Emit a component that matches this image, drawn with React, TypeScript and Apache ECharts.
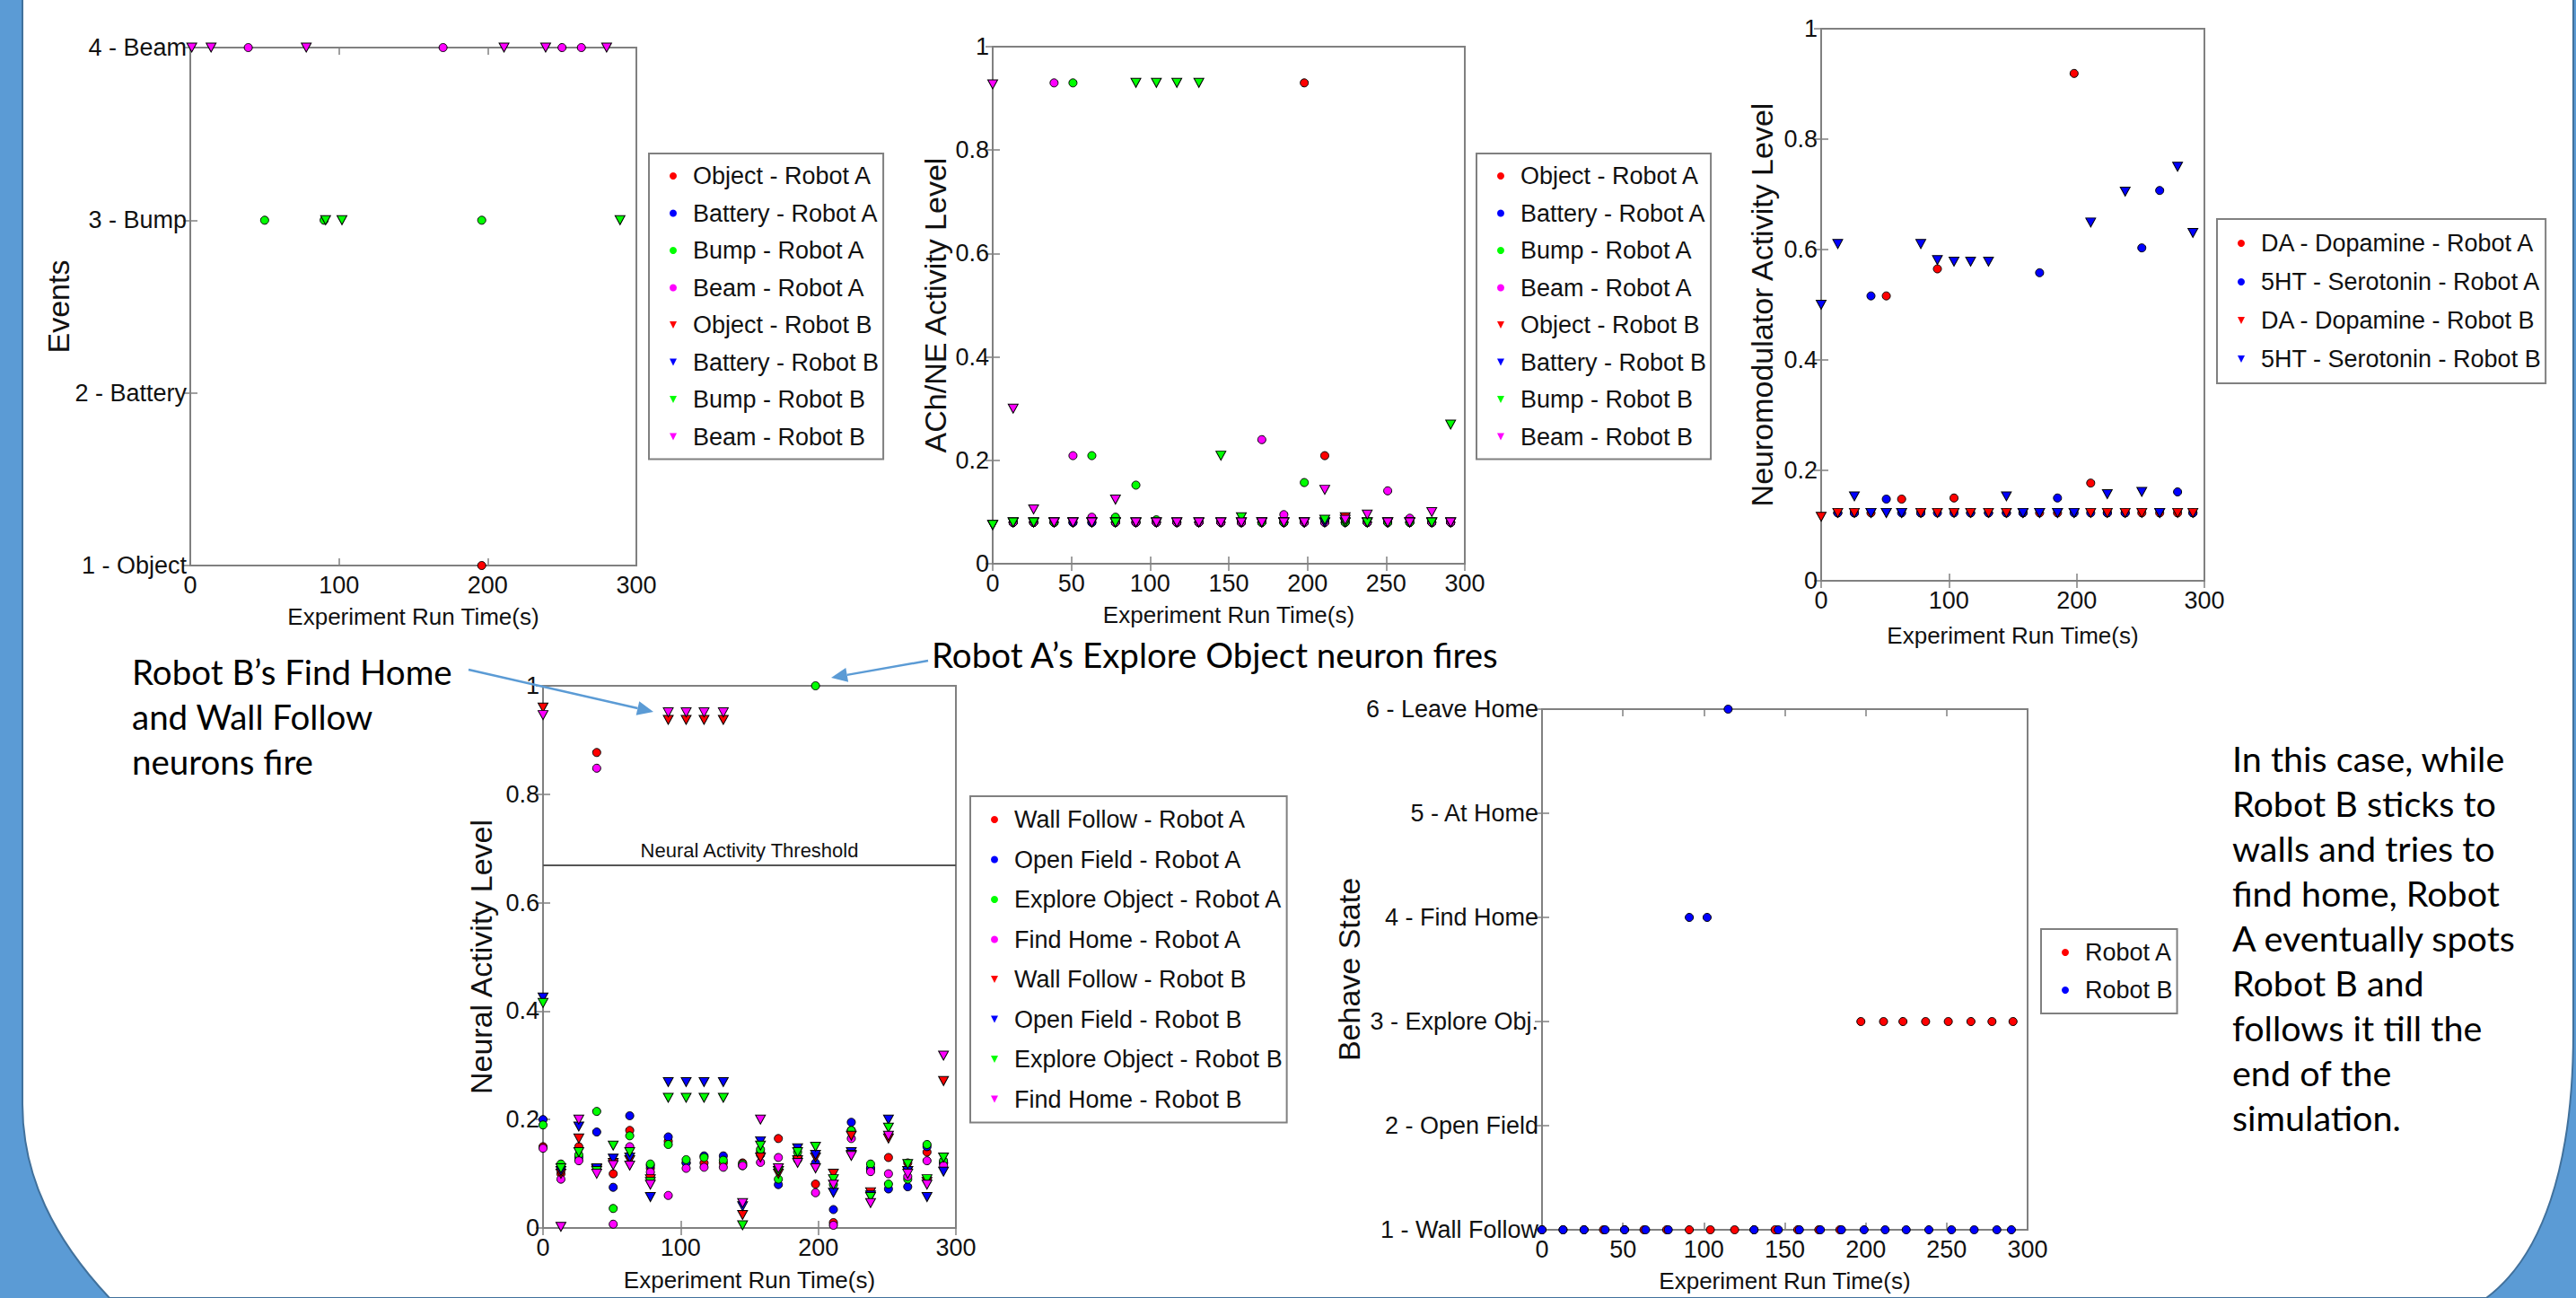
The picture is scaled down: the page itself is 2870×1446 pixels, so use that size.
import React, { useEffect, useRef } from "react";
import * as echarts from "echarts";

// ---------------- DATA ----------------
// common sampling times (s)
const T = [0, 13, 26, 39, 51, 63, 78, 91, 104, 117, 131, 145, 158, 171, 185, 198, 211, 224, 238, 251, 265, 279, 291];

// Chart 1: Events (times at which each event fired)
const EVENT_LEVELS = ["1 - Object", "2 - Battery", "3 - Bump", "4 - Beam"];
const evObjectA = [196];
const evBatteryA: number[] = [];
const evBumpA = [50, 90, 196];
const evBeamA = [39, 170, 250, 263];
const evObjectB: number[] = [];
const evBatteryB: number[] = [];
const evBumpB = [91, 102, 289];
const evBeamB = [1, 14, 78, 211, 239, 280];

// Chart 2: ACh/NE activity level
const achObjectA = [null, 0.08, 0.08, 0.08, 0.08, 0.08, 0.08, 0.08, 0.08, 0.08, 0.08, 0.08, 0.08, 0.08, 0.08, 0.93, 0.209, 0.09, 0.08, 0.08, 0.08, 0.08, 0.08];
const achBatteryA = [null, 0.08, 0.08, 0.08, 0.08, 0.08, 0.08, 0.08, 0.08, 0.08, 0.08, 0.08, 0.08, 0.08, 0.08, 0.08, 0.08, 0.08, 0.08, 0.08, 0.08, 0.08, 0.08];
const achBumpA = [null, 0.08, 0.08, 0.08, 0.93, 0.209, 0.09, 0.152, 0.085, 0.08, 0.08, 0.08, 0.08, 0.08, 0.08, 0.157, 0.085, 0.08, 0.08, 0.08, 0.08, 0.08, 0.08];
const achBeamA = [null, 0.08, 0.08, 0.93, 0.209, 0.09, 0.08, 0.08, 0.08, 0.08, 0.08, 0.08, 0.08, 0.24, 0.095, 0.08, 0.08, 0.085, 0.08, 0.141, 0.088, 0.08, 0.08];
const achObjectB = [0.075, 0.08, 0.08, 0.08, 0.08, 0.08, 0.08, 0.08, 0.08, 0.08, 0.08, 0.08, 0.08, 0.08, 0.08, 0.08, 0.08, 0.09, 0.08, 0.08, 0.08, 0.08, 0.08];
const achBatteryB = [0.075, 0.08, 0.08, 0.08, 0.08, 0.08, 0.08, 0.08, 0.08, 0.08, 0.08, 0.08, 0.08, 0.08, 0.08, 0.08, 0.08, 0.08, 0.08, 0.08, 0.08, 0.08, 0.08];
const achBumpB = [0.075, 0.08, 0.08, 0.08, 0.08, 0.08, 0.08, 0.93, 0.93, 0.93, 0.93, 0.209, 0.09, 0.08, 0.08, 0.08, 0.085, 0.08, 0.08, 0.08, 0.08, 0.08, 0.269];
const achBeamB = [0.927, 0.3, 0.105, 0.08, 0.08, 0.08, 0.124, 0.08, 0.08, 0.08, 0.08, 0.08, 0.08, 0.08, 0.08, 0.08, 0.143, 0.085, 0.095, 0.08, 0.08, 0.1, 0.08];

// Chart 3: neuromodulator activity level
const nmDA_A = [null, 0.123, 0.123, 0.123, 0.516, 0.148, 0.123, 0.565, 0.15, 0.123, 0.123, 0.123, 0.123, 0.123, 0.123, 0.919, 0.177, 0.123, 0.123, 0.123, 0.123, 0.123, 0.123];
const nm5HT_A = [null, 0.123, 0.123, 0.516, 0.148, 0.123, 0.123, 0.123, 0.123, 0.123, 0.123, 0.123, 0.123, 0.558, 0.15, 0.123, 0.123, 0.123, 0.123, 0.603, 0.707, 0.161, 0.123];
const nmDA_B = [0.116, 0.123, 0.123, 0.123, 0.123, 0.123, 0.123, 0.123, 0.123, 0.123, 0.123, 0.123, 0.123, 0.123, 0.123, 0.123, 0.123, 0.123, 0.123, 0.123, 0.123, 0.123, 0.123];
const nm5HT_B = [0.5, 0.61, 0.153, 0.123, 0.123, 0.123, 0.61, 0.581, 0.578, 0.578, 0.578, 0.153, 0.123, 0.123, 0.123, 0.123, 0.649, 0.157, 0.705, 0.161, 0.123, 0.75, 0.63];

// Chart 4: neural activity level
const THRESHOLD = 0.672;
const naWallA = [0.15, 0.1, 0.15, 0.877, 0.1, 0.18, 0.11, 0.16, 0.12, 0.12, 0.12, 0.12, 0.14, 0.165, 0.13, 0.081, 0.01, 0.18, 0.11, 0.13, 0.12, 0.14, 0.12];
const naOpenA = [0.2, 0.11, 0.13, 0.177, 0.075, 0.207, 0.115, 0.168, 0.12, 0.133, 0.133, 0.115, 0.135, 0.08, 0.13, 0.12, 0.034, 0.195, 0.11, 0.072, 0.076, 0.15, 0.12];
const naExploreA = [0.19, 0.118, 0.135, 0.215, 0.036, 0.17, 0.118, 0.154, 0.126, 0.13, 0.125, 0.118, 0.145, 0.09, 0.14, 1.0, 0.08, 0.18, 0.118, 0.081, 0.09, 0.154, 0.124];
const naHomeA = [0.147, 0.09, 0.124, 0.848, 0.007, 0.15, 0.103, 0.06, 0.11, 0.112, 0.112, 0.115, 0.121, 0.13, 0.126, 0.065, 0.005, 0.165, 0.104, 0.1, 0.095, 0.124, 0.115];
const naWallB = [0.96, 0.1, 0.165, 0.108, 0.12, 0.125, 0.09, 0.937, 0.937, 0.937, 0.937, 0.024, 0.13, 0.1, 0.125, 0.13, 0.1, 0.17, 0.066, 0.165, 0.105, 0.085, 0.271];
const naOpenB = [0.425, 0.105, 0.187, 0.11, 0.128, 0.13, 0.057, 0.269, 0.269, 0.269, 0.269, 0.04, 0.16, 0.105, 0.147, 0.135, 0.065, 0.14, 0.06, 0.2, 0.105, 0.057, 0.104];
const naExploreB = [0.415, 0.11, 0.14, 0.105, 0.152, 0.14, 0.085, 0.24, 0.24, 0.24, 0.24, 0.005, 0.152, 0.105, 0.14, 0.15, 0.09, 0.135, 0.057, 0.185, 0.118, 0.09, 0.13];
const naHomeB = [0.946, 0.002, 0.2, 0.1, 0.116, 0.115, 0.08, 0.951, 0.951, 0.951, 0.951, 0.046, 0.2, 0.11, 0.12, 0.11, 0.08, 0.133, 0.046, 0.17, 0.1, 0.08, 0.318];

// Chart 5: behaviour state
const STATE_LEVELS = ["1 - Wall Follow", "2 - Open Field", "3 - Explore Obj.", "4 - Find Home", "5 - At Home", "6 - Leave Home"];
const bsTimeA = [0, 13, 26, 38, 51, 63, 77, 91, 104, 119, 131, 144, 158, 171, 184, 197, 211, 223, 237, 251, 265, 278, 291];
const bsStateA = [1, 1, 1, 1, 1, 1, 1, 1, 1, 1, 1, 1, 1, 1, 1, 3, 3, 3, 3, 3, 3, 3, 3];
const bsTimeB = [0, 13, 26, 39, 51, 64, 78, 91, 102, 115, 131, 146, 159, 172, 185, 199, 212, 225, 239, 253, 267, 281, 290];
const bsStateB = [1, 1, 1, 1, 1, 1, 1, 4, 4, 6, 1, 1, 1, 1, 1, 1, 1, 1, 1, 1, 1, 1, 1];

// ---------------- STYLE ----------------
const FONT = "'Liberation Sans', Arial, Helvetica, sans-serif";
const FONT_NOTE = "Lato, 'Open Sans', sans-serif";
const FS = 27;
const RED = "#ff0000";
const BLUE = "#0000ff";
const GREEN = "#00ff00";
const MAG = "#ff00ff";
const FRAME = "#808080";
const TXT = "#111111";
const TRI_ICON = "path://M0,0L10,0L5,10Z";

type Spec = {
  left: number; top: number; width: number; height: number;
  xInterval: number; yMin: number; yMax: number; yInterval: number;
  yName: string; yNameGap: number; xNameGap: number;
  yFormatter?: (v: number) => string;
};

const specs: Spec[] = [
  { left: 212, top: 53, width: 497, height: 577, xInterval: 100, yMin: 1, yMax: 4, yInterval: 1, yName: "Events", yNameGap: 130, xNameGap: 44, yFormatter: (v) => EVENT_LEVELS[Math.round(v) - 1] || "" },
  { left: 1106, top: 52, width: 526, height: 576, xInterval: 50, yMin: 0, yMax: 1, yInterval: 0.2, yName: "ACh/NE Activity Level", yNameGap: 47, xNameGap: 44 },
  { left: 2029, top: 32, width: 427, height: 615, xInterval: 100, yMin: 0, yMax: 1, yInterval: 0.2, yName: "Neuromodulator Activity Level", yNameGap: 49, xNameGap: 48 },
  { left: 605, top: 764, width: 460, height: 604, xInterval: 100, yMin: 0, yMax: 1, yInterval: 0.2, yName: "Neural Activity Level", yNameGap: 52, xNameGap: 45 },
  { left: 1718, top: 790, width: 541, height: 580, xInterval: 50, yMin: 1, yMax: 6, yInterval: 1, yName: "Behave State", yNameGap: 198, xNameGap: 44, yFormatter: (v) => STATE_LEVELS[Math.round(v) - 1] || "" },
];

function buildAxes() {
  const xAxis: any[] = [];
  const yAxis: any[] = [];
  const tick = { inside: true, length: 8, lineStyle: { color: FRAME, width: 1.5 } };
  specs.forEach((s, i) => {
    xAxis.push({
      type: "value", gridIndex: i, min: 0, max: 300, interval: s.xInterval, position: "bottom",
      axisLine: { show: false }, axisTick: tick, splitLine: { show: false },
      axisLabel: { fontFamily: FONT, fontSize: FS, color: TXT, margin: 8 },
      name: "Experiment Run Time(s)", nameLocation: "middle", nameGap: s.xNameGap, nameMoveOverlap: false,
      nameTextStyle: { fontFamily: FONT, fontSize: 26, color: TXT },
    });
    xAxis.push({
      type: "value", gridIndex: i, min: 0, max: 300, interval: s.xInterval, position: "top",
      axisLine: { show: false }, axisTick: tick, splitLine: { show: false }, axisLabel: { show: false },
    });
    yAxis.push({
      type: "value", gridIndex: i, min: s.yMin, max: s.yMax, interval: s.yInterval, position: "left",
      axisLine: { show: false }, axisTick: tick, splitLine: { show: false },
      axisLabel: { fontFamily: FONT, fontSize: FS, color: TXT, margin: 4, formatter: s.yFormatter },
      name: s.yName, nameLocation: "middle", nameGap: s.yNameGap, nameMoveOverlap: false,
      nameTextStyle: { fontFamily: FONT, fontSize: 34, color: TXT },
    });
    yAxis.push({
      type: "value", gridIndex: i, min: s.yMin, max: s.yMax, interval: s.yInterval, position: "right",
      axisLine: { show: false }, axisTick: tick, splitLine: { show: false }, axisLabel: { show: false },
    });
  });
  return { xAxis, yAxis };
}

function sc(name: string, grid: number, color: string, tri: boolean, data: any[], extra: any = {}) {
  return {
    type: "scatter", name, xAxisIndex: grid * 2, yAxisIndex: grid * 2,
    symbol: tri ? "triangle" : "circle",
    symbolRotate: tri ? 180 : 0,
    symbolSize: tri ? [11, 10] : 9,
    itemStyle: { color, borderColor: "#000", borderWidth: 1, opacity: 1 },
    data, ...extra,
  };
}

const pair = (xs: number[], ys: (number | null)[]) =>
  xs.map((x, i) => (ys[i] == null ? null : [x, ys[i]])).filter((d) => d != null);
const evts = (xs: number[], level: number) => xs.map((x) => [x, level]);

function legend(names: string[], tris: boolean[], left: number, top: number, pad: [number, number], itemGap: number) {
  return {
    orient: "vertical", left, top, itemGap, itemWidth: 8, itemHeight: 10,
    padding: [pad[0], 5, pad[1], 23],
    borderColor: FRAME, borderWidth: 2, backgroundColor: "#fff",
    itemStyle: { borderWidth: 0 },
    textStyle: { fontFamily: FONT, fontSize: FS, color: TXT, lineHeight: 30, padding: [0, 0, 0, 13] },
    data: names.map((n, i) => ({ name: n, icon: tris[i] ? TRI_ICON : "circle" })),
  };
}

function arrow(x1: number, y1: number, x2: number, y2: number) {
  const dx = x2 - x1, dy = y2 - y1;
  const len = Math.hypot(dx, dy);
  const ux = dx / len, uy = dy / len;
  const L = 18, W = 8;
  const bx = x2 - ux * L, by = y2 - uy * L;
  return [
    { type: "line", z: 50, shape: { x1, y1, x2: bx, y2: by }, style: { stroke: "#5b9bd5", lineWidth: 2.5 } },
    { type: "polygon", z: 50, shape: { points: [[x2, y2], [bx - uy * W, by + ux * W], [bx + uy * W, by - ux * W]] }, style: { fill: "#5b9bd5" } },
  ];
}

const BG_PATH = "M25 -6 L2867 -6 L2867 1150 C2867 1300 2832 1400 2770 1446 L122 1446 C60 1380 25 1310 25 1230 Z";

export default function App() {
  const ref = useRef<HTMLDivElement>(null);
  useEffect(() => {
    document.body.style.margin = "0";
    if (!ref.current) return;
    try {
      echarts.graphic.registerShape("bgshape", echarts.graphic.extendPath(BG_PATH, {}) as any);
    } catch (e) {}
    const chart = echarts.init(ref.current, undefined, { renderer: "svg" });
    const { xAxis, yAxis } = buildAxes();
    const names1 = ["Object - Robot A", "Battery - Robot A", "Bump - Robot A", "Beam - Robot A", "Object - Robot B", "Battery - Robot B", "Bump - Robot B", "Beam - Robot B"];
    const names4 = ["Wall Follow - Robot A", "Open Field - Robot A", "Explore Object - Robot A", "Find Home - Robot A", "Wall Follow - Robot B", "Open Field - Robot B", "Explore Object - Robot B", "Find Home - Robot B"];
    const names3 = ["DA - Dopamine - Robot A", "5HT - Serotonin - Robot A", "DA - Dopamine - Robot B", "5HT - Serotonin - Robot B"];
    const tri8 = [false, false, false, false, true, true, true, true];
    const tri4 = [false, false, true, true];
    const cols = [RED, BLUE, GREEN, MAG];

    const ev = [evObjectA, evBatteryA, evBumpA, evBeamA, evObjectB, evBatteryB, evBumpB, evBeamB];
    const evLvl = [1, 2, 3, 4, 1, 2, 3, 4];
    const ach = [achObjectA, achBatteryA, achBumpA, achBeamA, achObjectB, achBatteryB, achBumpB, achBeamB];
    const na = [naWallA, naOpenA, naExploreA, naHomeA, naWallB, naOpenB, naExploreB, naHomeB];
    const nm = [nmDA_A, nm5HT_A, nmDA_B, nm5HT_B];

    const series: any[] = [];
    names1.forEach((n, k) => series.push(sc(n, 0, cols[k % 4], k >= 4, evts(ev[k], evLvl[k]))));
    names1.forEach((n, k) => series.push(sc(n, 1, cols[k % 4], k >= 4, pair(T, ach[k]))));
    names3.forEach((n, k) => series.push(sc(n, 2, [RED, BLUE][k % 2], k >= 2, pair(T, nm[k]))));
    names4.forEach((n, k) => series.push(sc(n, 3, cols[k % 4], k >= 4, pair(T, na[k]),
      k === 0 ? {
        markLine: {
          silent: true, symbol: ["none", "none"], data: [{ yAxis: THRESHOLD }],
          lineStyle: { color: "#555", width: 2, type: "solid" },
          label: { show: true, position: "middle", formatter: "Neural Activity Threshold", fontFamily: FONT, fontSize: 22, color: TXT, distance: 5 },
        },
      } : {})));
    series.push(sc("Robot A", 4, RED, false, pair(bsTimeA, bsStateA)));
    series.push(sc("Robot B", 4, BLUE, false, pair(bsTimeB, bsStateB)));

    const graphic: any[] = [
      { type: "rect", z: -20, silent: true, shape: { x: 0, y: 0, width: 2870, height: 1446 }, style: { fill: "#5b9bd5" } },
      { type: "bgshape", z: -10, silent: true, x: 0, y: 0, scaleX: 1, scaleY: 1, style: { fill: "#ffffff", stroke: "#41719c", lineWidth: 2 } },
      { type: "text", z: 50, x: 147, y: 723, style: { text: "Robot B’s Find Home\nand Wall Follow\nneurons fire", fontFamily: FONT_NOTE, fontSize: 38.5, lineHeight: 50, fill: "#000", verticalAlign: "top", align: "left" } },
      { type: "text", z: 50, x: 1038, y: 729, style: { text: "Robot A’s Explore Object neuron fires", fontFamily: FONT_NOTE, fontSize: 38.5, fill: "#000", verticalAlign: "middle", align: "left" } },
      { type: "text", z: 50, x: 2487, y: 819, style: { text: "In this case, while\nRobot B sticks to\nwalls and tries to\nfind home, Robot\nA eventually spots\nRobot B and\nfollows it till the\nend of the\nsimulation.", fontFamily: FONT_NOTE, fontSize: 39.5, lineHeight: 50, fill: "#000", verticalAlign: "top", align: "left" } },
      ...arrow(522, 746, 728, 793),
      ...arrow(1034, 736, 926, 755),
    ];

    const grid = specs.map((s) => ({ left: s.left, top: s.top, width: s.width, height: s.height, show: true, borderColor: FRAME, borderWidth: 2, backgroundColor: "#fff", containLabel: false }));

    chart.setOption({
      animation: false,
      backgroundColor: "#5b9bd5",
      graphic,
      grid,
      xAxis,
      yAxis,
      legend: [
        legend(names1, tri8, 723, 171, [10, 10], 11.5),
        legend(names1, tri8, 1645, 171, [10, 10], 11.5),
        legend(names3, tri4, 2470, 244, [12, 12], 13),
        legend(names4, tri8, 1081, 887, [11, 11], 14.5),
        legend(["Robot A", "Robot B"], [false, false], 2274, 1035, [11, 11], 12),
      ],
      series,
    });
    return () => chart.dispose();
  }, []);
  return <div ref={ref} style={{ width: 2870, height: 1446 }} />;
}
